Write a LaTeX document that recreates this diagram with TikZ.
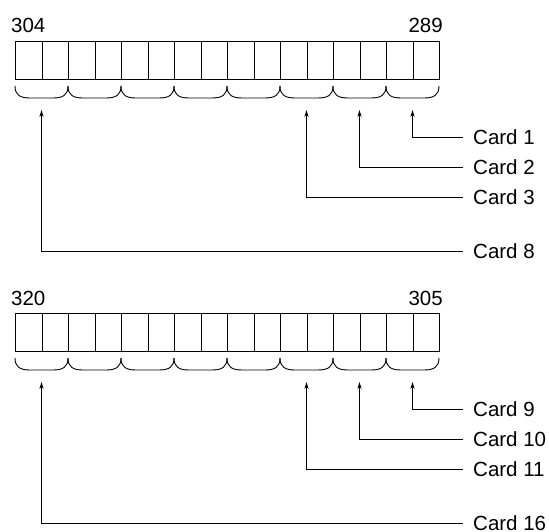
\documentclass[tikz,border=0pt]{standalone}
\usepackage{fontspec}
\setmainfont{Liberation Sans}
\usetikzlibrary{arrows.meta}
\begin{document}
\begin{tikzpicture}[x=1pt,y=-1pt,
  lbl/.style={font=\fontsize{20.5}{22}\selectfont, inner sep=0pt},
  cardlbl/.style={lbl, anchor=west, text depth=0pt},
  cell/.style={draw, line width=1pt},
  brc/.style={line width=0.9pt},
  conn/.style={line width=0.9pt, -{Stealth[length=7pt,width=4.2pt]}}]
\useasboundingbox (0,0) rectangle (549,532);
\def\xL{15}\def\cw{26.5}
\foreach \oy/\nl/\nr/\ca/\cb/\cc/\cd [count=\k] in {0/304/289/1/2/3/8, 272/320/305/9/10/11/16}{
  \begin{scope}[yshift=-\oy]
    % numbers
    \node[lbl, anchor=base west] (nl\k) at (11,33) {\nl};
    \node[lbl, anchor=base east] (nr\k) at (443,33) {\nr};
    % cells
    \foreach \i in {1,...,16}{
      \node[cell, minimum width=\cw, minimum height=38, inner sep=0pt, anchor=north west]
        (b\k-\i) at ({\xL+(\i-1)*\cw},41) {};
    }
    % braces
    \foreach \j in {1,...,8}{
      \pgfmathsetmacro{\a}{\xL+(\j-1)*2*\cw}
      \pgfmathsetmacro{\b}{\a+2*\cw}
      \draw[brc] (\a,86) .. controls (\a,95) and (\a+5,98) .. (\a+15,98)
        -- (\b-15,98) .. controls (\b-5,98) and (\b,95) .. (\b,86);
      \coordinate (t\k-\j) at ({(\a+\b)/2},110);
    }
    % labels
    \node[cardlbl] (c\k a) at (473,137) {Card \ca};
    \node[cardlbl] (c\k b) at (473,167) {Card \cb};
    \node[cardlbl] (c\k c) at (473,197) {Card \cc};
    \node[cardlbl] (c\k d) at (473,251) {Card \cd};
    \draw[conn] ([xshift=-10pt]c\k a.west) -| (t\k-8);
    \draw[conn] ([xshift=-10pt]c\k b.west) -| (t\k-7);
    \draw[conn] ([xshift=-10pt]c\k c.west) -| (t\k-6);
    \draw[conn] ([xshift=-10pt]c\k d.west) -| (t\k-1);
  \end{scope}
}
\end{tikzpicture}
\end{document}
